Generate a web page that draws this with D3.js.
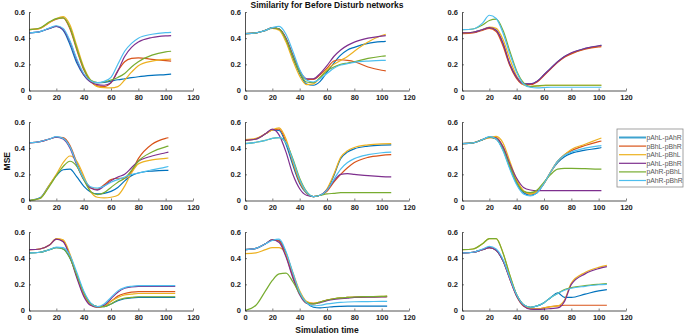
<!DOCTYPE html>
<html>
<head>
<meta charset="utf-8">
<script src="https://cdn.jsdelivr.net/npm/d3@7"></script>
<style>
  body { margin: 0; background: #fff; }
  text { font-family: "Liberation Sans", Arial, sans-serif; }
</style>
</head>
<body>
<div id="chart"></div>
<script>
// Datos
const seriesNames = ["pAhL-pAhR", "pBhL-pBhR", "pAhL-pBhL", "pAhL-pBhR", "pAhR-pBhL", "pAhR-pBhR"];
const colors = ["#0072BD", "#D95319", "#EDB120", "#7E2F8E", "#77AC30", "#4DBEEE"];
const xTicks = [0, 20, 40, 60, 80, 100, 120];
const yTicks = [0, 0.2, 0.4, 0.6];

// tiempos de muestreo, el ultimo punto es endTimes[panel]
const times = [0, 8, 15, 20, 25, 30, 35, 40, 45, 50, 55, 60, 65, 70, 75, 80, 90, 100];
const endTimes = [104, 103, 102, 102, 107, 102, 107, 104, 106];

// un arreglo por panel, en el orden de seriesNames
const panel1 = [
  [0.44,0.45,0.475,0.49,0.46,0.35,0.21,0.12,0.07,0.06, 0.062,0.072,0.082,0.09,0.098,0.105,0.115,0.122,0.125],
  [0.465,0.475,0.52,0.545,0.555,0.47,0.31,0.16,0.07,0.035, 0.03,0.06,0.15,0.22,0.245,0.25,0.238,0.228,0.225],
  [0.465,0.475,0.52,0.55,0.565,0.5,0.34,0.18,0.08,0.03, 0.022,0.02,0.03,0.08,0.14,0.19,0.225,0.238,0.24],
  [0.44,0.45,0.475,0.49,0.465,0.37,0.23,0.12,0.065,0.045, 0.04,0.06,0.15,0.26,0.33,0.37,0.405,0.418,0.42],
  [0.465,0.478,0.525,0.55,0.555,0.48,0.32,0.17,0.08,0.06, 0.065,0.08,0.1,0.13,0.18,0.22,0.27,0.295,0.30],
  [0.44,0.45,0.478,0.495,0.475,0.38,0.24,0.13,0.075,0.06, 0.07,0.1,0.2,0.3,0.36,0.4,0.43,0.443,0.445]
];
const panel2 = [
  [0.435,0.44,0.46,0.478,0.47,0.39,0.25,0.13,0.05,0.04, 0.07,0.14,0.21,0.27,0.31,0.33,0.36,0.373,0.375],
  [0.435,0.44,0.46,0.478,0.47,0.4,0.27,0.15,0.085,0.085, 0.12,0.17,0.225,0.235,0.23,0.22,0.18,0.155,0.15],
  [0.435,0.44,0.46,0.475,0.46,0.37,0.23,0.11,0.045,0.05, 0.1,0.16,0.2,0.23,0.26,0.3,0.37,0.42,0.43],
  [0.435,0.44,0.46,0.478,0.47,0.4,0.27,0.15,0.09,0.09, 0.13,0.19,0.26,0.31,0.345,0.37,0.4,0.415,0.42],
  [0.435,0.44,0.46,0.478,0.47,0.39,0.26,0.14,0.065,0.06, 0.1,0.15,0.18,0.2,0.21,0.22,0.245,0.262,0.265],
  [0.435,0.44,0.46,0.48,0.49,0.43,0.3,0.16,0.08,0.065, 0.09,0.13,0.17,0.195,0.205,0.215,0.225,0.23,0.23]
];
const panel3 = [
  [0.44,0.445,0.465,0.48,0.46,0.36,0.2,0.1,0.05,0.05, 0.07,0.12,0.17,0.22,0.26,0.285,0.32,0.34,0.345],
  [0.435,0.44,0.46,0.475,0.45,0.34,0.19,0.09,0.045,0.045, 0.065,0.115,0.165,0.215,0.255,0.28,0.315,0.333,0.335],
  [0.44,0.445,0.465,0.485,0.475,0.39,0.24,0.11,0.045,0.03, 0.035,0.038,0.04,0.04,0.04,0.04,0.04,0.04,0.04],
  [0.44,0.445,0.465,0.48,0.46,0.36,0.2,0.1,0.05,0.05, 0.07,0.12,0.17,0.22,0.26,0.288,0.322,0.342,0.345],
  [0.465,0.47,0.5,0.535,0.545,0.46,0.3,0.15,0.06,0.03, 0.035,0.04,0.04,0.04,0.04,0.04,0.04,0.04,0.04],
  [0.465,0.47,0.515,0.575,0.55,0.44,0.28,0.14,0.05,0.025, 0.02,0.022,0.025,0.025,0.025,0.025,0.025,0.025,0.025]
];
const panel4 = [
  [0,0.02,0.12,0.19,0.235,0.24,0.18,0.11,0.065,0.05, 0.055,0.07,0.1,0.15,0.19,0.21,0.225,0.23,0.23],
  [0.44,0.45,0.47,0.485,0.48,0.42,0.29,0.17,0.1,0.085, 0.12,0.16,0.17,0.17,0.22,0.32,0.43,0.475,0.48],
  [0,0.015,0.12,0.2,0.29,0.34,0.3,0.19,0.07,0.025, 0.02,0.025,0.04,0.11,0.21,0.28,0.31,0.322,0.325],
  [0.44,0.45,0.47,0.485,0.47,0.4,0.27,0.16,0.095,0.08, 0.11,0.15,0.18,0.2,0.25,0.3,0.34,0.365,0.37],
  [0,0.015,0.11,0.19,0.26,0.3,0.26,0.16,0.07,0.045, 0.06,0.1,0.14,0.17,0.23,0.3,0.37,0.41,0.415],
  [0.44,0.45,0.47,0.488,0.475,0.41,0.28,0.17,0.105,0.095, 0.11,0.14,0.16,0.18,0.2,0.21,0.235,0.255,0.26]
];
const panel5 = [
  [0.46,0.47,0.51,0.54,0.535,0.43,0.27,0.13,0.055,0.03, 0.04,0.08,0.19,0.32,0.37,0.395,0.415,0.423,0.425],
  [0.46,0.47,0.51,0.54,0.545,0.45,0.29,0.14,0.06,0.03, 0.04,0.07,0.14,0.2,0.25,0.29,0.33,0.345,0.35],
  [0.465,0.475,0.51,0.54,0.555,0.47,0.3,0.15,0.06,0.03, 0.04,0.09,0.2,0.33,0.38,0.405,0.425,0.433,0.435],
  [0.46,0.47,0.51,0.545,0.5,0.37,0.2,0.09,0.04,0.03, 0.04,0.08,0.15,0.2,0.205,0.2,0.19,0.183,0.18],
  [0.435,0.445,0.46,0.475,0.48,0.44,0.32,0.17,0.07,0.03, 0.04,0.05,0.055,0.06,0.06,0.06,0.06,0.06,0.06],
  [0.435,0.445,0.46,0.475,0.48,0.44,0.31,0.16,0.065,0.03, 0.04,0.08,0.16,0.24,0.29,0.32,0.35,0.365,0.37]
];
const panel6 = [
  [0.435,0.44,0.465,0.485,0.47,0.39,0.25,0.13,0.06,0.04, 0.06,0.13,0.22,0.29,0.335,0.36,0.385,0.4,0.405],
  [0.435,0.44,0.465,0.48,0.48,0.41,0.27,0.15,0.07,0.05, 0.07,0.13,0.22,0.3,0.35,0.38,0.42,0.45,0.455],
  [0.435,0.44,0.465,0.48,0.49,0.44,0.3,0.16,0.075,0.05, 0.07,0.13,0.22,0.3,0.35,0.39,0.43,0.47,0.478],
  [0.435,0.44,0.465,0.485,0.475,0.41,0.28,0.17,0.1,0.08, 0.075,0.075,0.075,0.075,0.075,0.075,0.075,0.075,0.075],
  [0.435,0.44,0.465,0.485,0.47,0.39,0.26,0.14,0.07,0.06, 0.08,0.14,0.2,0.24,0.245,0.245,0.243,0.24,0.24],
  [0.435,0.44,0.465,0.488,0.47,0.38,0.24,0.12,0.05,0.035, 0.06,0.13,0.22,0.3,0.345,0.37,0.4,0.418,0.42]
];
const panel7 = [
  [0.44,0.445,0.465,0.48,0.47,0.4,0.27,0.14,0.055,0.03, 0.03,0.05,0.075,0.09,0.097,0.1,0.1,0.1,0.1],
  [0.465,0.47,0.5,0.545,0.53,0.42,0.26,0.12,0.045,0.025, 0.035,0.07,0.11,0.13,0.14,0.145,0.145,0.145,0.145],
  [0.465,0.47,0.5,0.55,0.54,0.43,0.27,0.12,0.045,0.025, 0.035,0.07,0.1,0.12,0.125,0.13,0.13,0.13,0.13],
  [0.465,0.47,0.5,0.545,0.525,0.41,0.25,0.11,0.04,0.025, 0.04,0.09,0.14,0.17,0.18,0.185,0.185,0.185,0.185],
  [0.44,0.445,0.465,0.48,0.47,0.4,0.27,0.14,0.055,0.03, 0.03,0.05,0.08,0.095,0.1,0.105,0.105,0.105,0.105],
  [0.44,0.445,0.465,0.485,0.48,0.42,0.29,0.15,0.06,0.03, 0.05,0.1,0.15,0.175,0.185,0.19,0.19,0.19,0.19]
];
const panel8 = [
  [0.465,0.475,0.51,0.54,0.535,0.44,0.28,0.14,0.06,0.025, 0.02,0.025,0.03,0.032,0.033,0.033,0.033,0.033,0.033],
  [0.465,0.475,0.51,0.54,0.53,0.42,0.26,0.13,0.06,0.055, 0.065,0.08,0.09,0.095,0.1,0.1,0.105,0.105,0.105],
  [0.435,0.44,0.465,0.48,0.48,0.43,0.29,0.15,0.07,0.055, 0.065,0.08,0.09,0.097,0.1,0.103,0.106,0.108,0.11],
  [0.465,0.475,0.51,0.54,0.52,0.41,0.25,0.12,0.055,0.05, 0.06,0.075,0.085,0.09,0.095,0.1,0.102,0.104,0.105],
  [0,0.04,0.15,0.23,0.28,0.285,0.22,0.13,0.06,0.05, 0.065,0.08,0.09,0.097,0.1,0.103,0.106,0.108,0.11],
  [0.465,0.475,0.51,0.535,0.545,0.45,0.29,0.14,0.06,0.035, 0.04,0.05,0.057,0.062,0.065,0.067,0.068,0.07,0.07]
];
const panel9 = [
  [0.44,0.445,0.465,0.48,0.46,0.38,0.25,0.12,0.045,0.025, 0.035,0.06,0.1,0.135,0.1,0.1,0.125,0.15,0.16],
  [0.44,0.445,0.465,0.48,0.46,0.38,0.24,0.11,0.035,0.015, 0.012,0.02,0.03,0.035,0.04,0.04,0.04,0.04,0.04],
  [0.465,0.47,0.51,0.55,0.55,0.44,0.27,0.12,0.04,0.015, 0.012,0.02,0.03,0.035,0.08,0.21,0.29,0.33,0.345],
  [0.44,0.445,0.465,0.48,0.46,0.38,0.24,0.11,0.035,0.01, 0.008,0.01,0.015,0.02,0.07,0.2,0.28,0.32,0.335],
  [0.465,0.47,0.51,0.55,0.55,0.44,0.27,0.12,0.045,0.025, 0.035,0.06,0.1,0.13,0.16,0.175,0.19,0.2,0.205],
  [0.44,0.445,0.47,0.49,0.47,0.39,0.25,0.12,0.045,0.025, 0.035,0.06,0.1,0.13,0.155,0.17,0.185,0.197,0.2]
];
const panels = [panel1, panel2, panel3, panel4, panel5, panel6, panel7, panel8, panel9];

// Grafico
const width = 685;
const height = 335;
const colX = [29, 245, 462];
const rowY = [12, 122, 232];
const plotW = 164;
const plotH = 78.5;

const svg = d3.select("#chart").append("svg")
  .attr("width", width)
  .attr("height", height);

const line = d3.line()
  .x(d => d[0])
  .y(d => d[1])
  .curve(d3.curveMonotoneX);

panels.forEach((panel, p) => {
  const col = p % 3;
  const row = Math.floor(p / 3);
  const g = svg.append("g")
    .attr("transform", `translate(${colX[col]}, ${rowY[row]})`);

  const x = d3.scaleLinear().domain([0, 120]).range([0, plotW]);
  const y = d3.scaleLinear().domain([0, 0.6]).range([plotH, 0]);
  const t = times.concat([endTimes[p]]);

  panel.forEach((vals, i) => {
    g.append("path")
      .attr("fill", "none")
      .attr("stroke", colors[i])
      .attr("stroke-width", 1.2)
      .attr("d", line(vals.map((v, k) => [x(t[k]), y(v)])));
  });

  const xAxis = g.append("g")
    .attr("transform", `translate(0, ${plotH})`)
    .call(d3.axisBottom(x).tickValues(xTicks).tickSizeInner(-2).tickSizeOuter(0).tickPadding(4));
  const yAxis = g.append("g")
    .call(d3.axisLeft(y).tickValues(yTicks).tickFormat(d3.format("")).tickSizeInner(-2).tickSizeOuter(0).tickPadding(4));

  [xAxis, yAxis].forEach(a => {
    a.select(".domain").attr("stroke", "#262626").attr("stroke-width", 0.8);
    a.selectAll(".tick line").attr("stroke", "#262626").attr("stroke-width", 0.6);
    a.selectAll("text")
      .attr("fill", "#222")
      .style("font-size", "7.5px")
      .style("font-weight", "bold");
  });
});

// Titulos
svg.append("text")
  .attr("x", colX[1] + plotW / 2)
  .attr("y", 8)
  .attr("text-anchor", "middle")
  .style("font-size", "8.5px")
  .style("font-weight", "bold")
  .attr("fill", "#111")
  .text("Similarity for Before Disturb networks");

svg.append("text")
  .attr("x", colX[1] + plotW / 2)
  .attr("y", 333)
  .attr("text-anchor", "middle")
  .style("font-size", "8.5px")
  .style("font-weight", "bold")
  .attr("fill", "#111")
  .text("Simulation time");

svg.append("text")
  .attr("transform", `translate(10, ${rowY[1] + plotH / 2}) rotate(-90)`)
  .attr("text-anchor", "middle")
  .style("font-size", "8.5px")
  .style("font-weight", "bold")
  .attr("fill", "#111")
  .text("MSE");

// Leyenda
const legend = svg.append("g").attr("transform", "translate(617, 129)");
legend.append("rect")
  .attr("width", 66)
  .attr("height", 58)
  .attr("fill", "#fff")
  .attr("stroke", "#8c8c8c")
  .attr("stroke-width", 0.8);

seriesNames.forEach((name, i) => {
  const ly = 8.5 + i * 8.6;
  legend.append("line")
    .attr("x1", 2).attr("x2", 29)
    .attr("y1", ly).attr("y2", ly)
    .attr("stroke", i === 0 ? "#3fa3cf" : colors[i])
    .attr("stroke-width", i === 0 ? 2 : 1.2);
  legend.append("text")
    .attr("x", 29.5)
    .attr("y", ly + 2.4)
    .style("font-size", "6.8px")
    .attr("fill", "#555")
    .text(name);
});
</script>
</body>
</html>
